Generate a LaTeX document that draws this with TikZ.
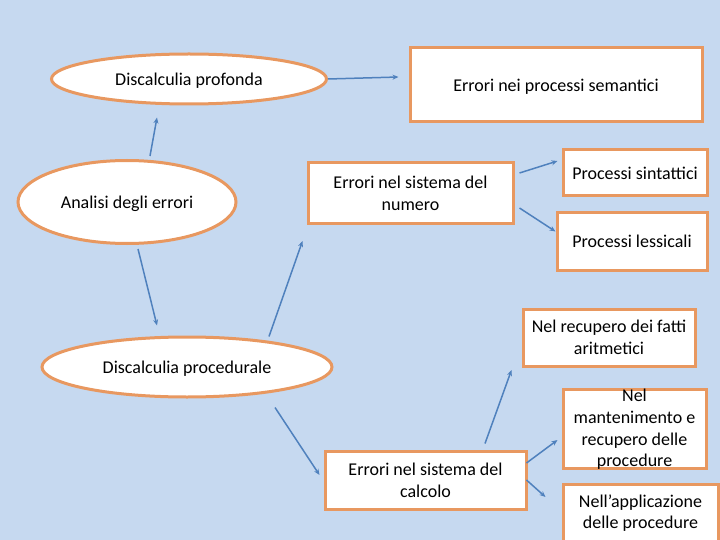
\documentclass[tikz,border=0pt]{standalone}
\usepackage{fontspec}
\setmainfont{Carlito}
\usetikzlibrary{shapes.geometric,calc,arrows.meta}
\definecolor{bgblue}{RGB}{198,217,240}
\definecolor{borderorange}{RGB}{232,152,96}
\definecolor{arrowblue}{RGB}{79,129,189}
\begin{document}
\begin{tikzpicture}[x=1pt,y=-1pt,
  every node/.style={font=\fontsize{18}{21.7}\selectfont, text=black},
  oval/.style={ellipse, draw=borderorange, fill=white, line width=3pt, inner sep=0pt, text depth=0pt},
  box/.style={rectangle, draw=borderorange, fill=white, line width=3pt, inner sep=0pt, align=center},
  oneline/.style={text depth=0pt},
  conn/.style={draw=arrowblue, line width=1.5pt, -{Stealth[length=6pt,width=5pt]}}
]
\fill[bgblue] (0,0) rectangle (720,540);
\useasboundingbox (0,0) rectangle (720,540);

% ellipses
\node (prof) [oval, minimum width=275pt, minimum height=50pt] at (189,79) {Discalculia profonda};
\node (ana) [oval, minimum width=218pt, minimum height=83pt] at (127,202) {Analisi degli errori\hspace{5pt}};
\node (proc) [oval, minimum width=290pt, minimum height=60pt] at (187,367) {Discalculia procedurale};

% boxes
\node (sem) [box, oneline, minimum width=292pt, minimum height=74pt] at (556,85) {Errori nei processi semantici};
\node (num) [box, minimum width=205pt, minimum height=61pt] at (410.5,193.5) {Errori nel sistema del\\numero};
\node (sin) [box, oneline, minimum width=144pt, minimum height=46pt] at (635,173) {Processi sintattici};
\node (les) [box, oneline, minimum width=150pt, minimum height=57pt] at (632,241.5) {Processi lessicali};
\node (fat) [box, minimum width=172pt, minimum height=57pt] at (609,337.5) {Nel recupero dei fatti\\aritmetici};
\node (man) [box, minimum width=143pt, minimum height=79pt] at (634.5,428.5) {};
\node (mantext) [align=center, inner sep=0pt] at ([yshift=-1pt]man.center) {Nel\\mantenimento e\\recupero delle\\procedure};
\node (cal) [box, minimum width=201pt, minimum height=58pt] at (425.5,480) {Errori nel sistema del\\calcolo};
\node (app) [box, minimum width=155pt, minimum height=58pt] at (640.5,513) {Nell’applicazione\\delle procedure};

% connectors
\draw[conn] (prof.east) -- ($(sem.west)+(-10,-8)$);
\draw[conn] ($(ana.north)+(23,-3)$) -- ($(prof.south)+(-32,12)$);
\draw[conn] ($(ana.south)+(11,4)$) -- ($(proc.north)+(-30,-10)$);
\draw[conn] ($(proc.north)+(82,1)$) -- ($(num.west)+(-4,47.5)$);
\draw[conn] ($(num.east)+(5,-20.5)$) -- ($(sin.west)+(-4,-12)$);
\draw[conn] ($(num.east)+(5,14.5)$) -- ($(les.west)+(0,-10)$);
\draw[conn] ($(proc.south)+(88,9)$) -- ($(cal.west)+(-4,-5)$);
\draw[conn] ($(cal.north)+(59.5,-6)$) -- ($(fat.west)+(-10,32.5)$);
\draw[conn] ($(cal.east)+(-1,-17)$) -- ($(man.west)+(-4,11.5)$);
\draw[conn] ($(cal.east)+(-1,0)$) -- ($(app.west)+(-16,-16)$);
\end{tikzpicture}
\end{document}
